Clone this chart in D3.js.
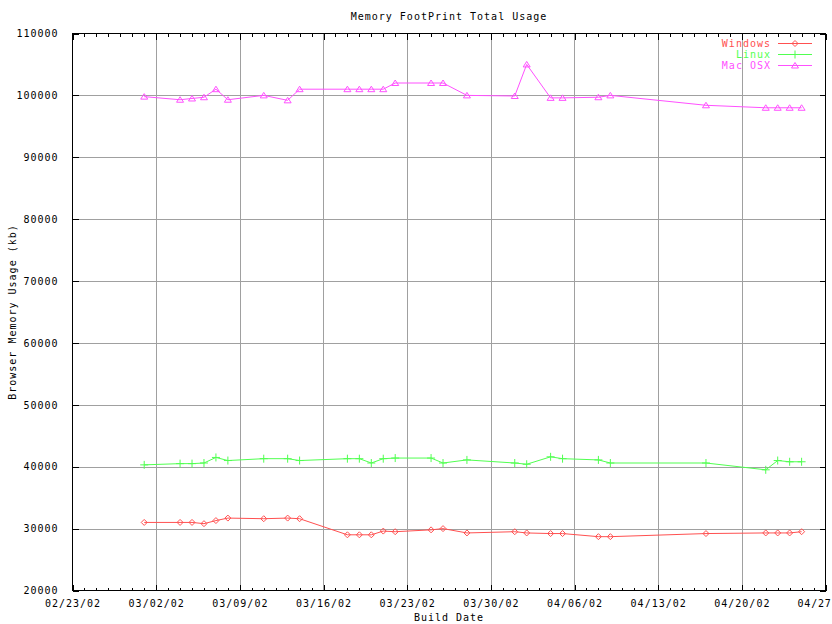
<!DOCTYPE html>
<html><head><meta charset="utf-8">
<script src="https://cdn.jsdelivr.net/npm/d3@7"></script>
<style>
body{margin:0;background:#fff;}
text{font-family:"DejaVu Sans Mono",monospace;font-size:10px;letter-spacing:1px;}
</style></head>
<body><svg id="c" width="832" height="624"></svg>
<script>
const dates = ["2002-03-01","2002-03-04","2002-03-05","2002-03-06","2002-03-07","2002-03-08","2002-03-11","2002-03-13","2002-03-14","2002-03-18","2002-03-19","2002-03-20","2002-03-21","2002-03-22","2002-03-25","2002-03-26","2002-03-28","2002-04-01","2002-04-02","2002-04-04","2002-04-05","2002-04-08","2002-04-09","2002-04-17","2002-04-22","2002-04-23","2002-04-24","2002-04-25"];
const windows = [31000,31000,31000,30800,31300,31700,31600,31700,31600,29000,29000,29000,29600,29500,29800,30000,29300,29500,29300,29200,29200,28700,28700,29200,29300,29300,29300,29500];
const linux = [40300,40500,40500,40600,41500,41000,41300,41300,41000,41300,41300,40600,41300,41400,41400,40600,41100,40600,40400,41600,41300,41100,40600,40600,39500,41000,40800,40800];
const macosx = [99800,99300,99500,99700,101000,99300,100000,99200,101000,101000,101000,101000,101000,102000,102000,102000,100000,99900,105000,99600,99600,99700,100000,98400,98000,98000,98000,98000];
const seriesNames = ["Windows","Linux","Mac OSX"];
const seriesColors = ["#ff5050","#50ff50","#ff50ff"];
const yTicks = [20000,30000,40000,50000,60000,70000,80000,90000,100000,110000];
const xTickLabels = ["02/23/02","03/02/02","03/09/02","03/16/02","03/23/02","03/30/02","04/06/02","04/13/02","04/20/02","04/27"];
const title = "Memory FootPrint Total Usage";
const xTitle = "Build Date";
const yTitle = "Browser Memory Usage (kb)";

const parse = d3.timeParse("%Y-%m-%d");
const L=72.5, R=825.5, T=33.5, B=590.5;
const svg = d3.select("#c");
const x = d3.scaleTime().domain([parse("2002-02-23"), parse("2002-04-27")]).range([L,R]);
const y = d3.scaleLinear().domain([20000,110000]).range([B,T]);
const weekly = d3.range(xTickLabels.length).map(i=>d3.timeDay.offset(parse("2002-02-23"), i*7));
const daily = d3.timeDay.range(parse("2002-02-23"), d3.timeDay.offset(parse("2002-04-27"),1));

// grid
const g = svg.append("g");
g.selectAll(".gx").data(weekly.slice(1,-1)).join("line")
 .attr("x1",d=>Math.round(x(d))+0.5).attr("x2",d=>Math.round(x(d))+0.5).attr("y1",T).attr("y2",B)
 .attr("stroke","#a0a0a0");
g.selectAll(".gy").data(yTicks.slice(1,-1)).join("line")
 .attr("y1",d=>Math.round(y(d))+0.5).attr("y2",d=>Math.round(y(d))+0.5).attr("x1",L).attr("x2",R)
 .attr("stroke","#a0a0a0");

// axes via d3
const fmt = (d,i)=>xTickLabels[i];
const axB = svg.append("g").attr("transform",`translate(0,${B})`)
 .call(d3.axisBottom(x).tickValues(weekly).tickFormat(fmt).tickSize(-6).tickPadding(13));
const axBm = svg.append("g").attr("transform",`translate(0,${B})`)
 .call(d3.axisBottom(x).tickValues(daily).tickFormat("").tickSize(-3));
const axT = svg.append("g").attr("transform",`translate(0,${T})`)
 .call(d3.axisTop(x).tickValues(weekly).tickFormat("").tickSize(-6));
const axTm = svg.append("g").attr("transform",`translate(0,${T})`)
 .call(d3.axisTop(x).tickValues(daily).tickFormat("").tickSize(-3));
const axL = svg.append("g").attr("transform",`translate(${L},0)`)
 .call(d3.axisLeft(y).tickValues(yTicks).tickFormat(d3.format("d")).tickSize(-6).tickPadding(14));
const axR = svg.append("g").attr("transform",`translate(${R},0)`)
 .call(d3.axisRight(y).tickValues(yTicks).tickFormat("").tickSize(-6));
[axB,axBm,axT,axTm,axL,axR].forEach(a=>{
  a.select(".domain").remove();
  a.selectAll("line").attr("stroke","#000").attr("shape-rendering","crispEdges");
  a.selectAll("text").attr("fill","#000").style("font-family","DejaVu Sans Mono").style("font-size","10px");
});
axB.selectAll("text").attr("dy","0.3em");
// last label is clipped by the image edge in the reference; keep it inside
axB.selectAll(".tick").filter((d,i)=>i===xTickLabels.length-1).select("text")
  .attr("text-anchor","start").attr("x",797-R).style("letter-spacing","0.8px");
svg.append("rect").attr("x",L).attr("y",T).attr("width",R-L).attr("height",B-T)
 .attr("fill","none").attr("stroke","#000").attr("shape-rendering","crispEdges");

// markers
function marker(sel, kind, cx, cy, color){
  let d;
  if(kind===0) d = `M${cx-3},${cy}L${cx},${cy-3}L${cx+3},${cy}L${cx},${cy+3}Z`;
  else if(kind===1) d = `M${cx-4},${cy}H${cx+4}M${cx},${cy-4}V${cy+4}`;
  else d = `M${cx-3.5},${cy+2.5}L${cx},${cy-3}L${cx+3.5},${cy+2.5}Z`;
  sel.append("path").attr("d",d).attr("fill","none").attr("stroke",color);
}

const allSeries = [windows, linux, macosx];
const line = d3.line().x(d=>x(d[0])).y(d=>y(d[1]));
allSeries.forEach((vals,si)=>{
  const pts = dates.map((d,i)=>[parse(d), vals[i]]);
  svg.append("path").datum(pts).attr("d",line).attr("fill","none")
    .attr("stroke",seriesColors[si]).attr("stroke-width",1);
  const mg = svg.append("g");
  pts.forEach(p=>marker(mg, si, x(p[0]), y(p[1]), seriesColors[si]));
});

// legend
seriesNames.forEach((n,i)=>{
  const ly = 43 + i*11.2;
  svg.append("text").attr("x",771).attr("y",ly).attr("dy","0.35em").attr("text-anchor","end")
    .attr("fill",seriesColors[i]).text(n);
  svg.append("line").attr("x1",778).attr("x2",812).attr("y1",Math.round(ly)+0.5).attr("y2",Math.round(ly)+0.5)
    .attr("stroke",seriesColors[i]);
  marker(svg, i, 795, Math.round(ly)+0.5, seriesColors[i]);
});

// titles
svg.append("text").attr("x",449).attr("y",16).attr("dy","0.35em").attr("text-anchor","middle").text(title);
svg.append("text").attr("x",449).attr("y",617).attr("dy","0.35em").attr("text-anchor","middle").text(xTitle);
svg.append("text").attr("transform","translate(12,312) rotate(-90)").attr("dy","0.35em").attr("text-anchor","middle").text(yTitle);
</script></body></html>
